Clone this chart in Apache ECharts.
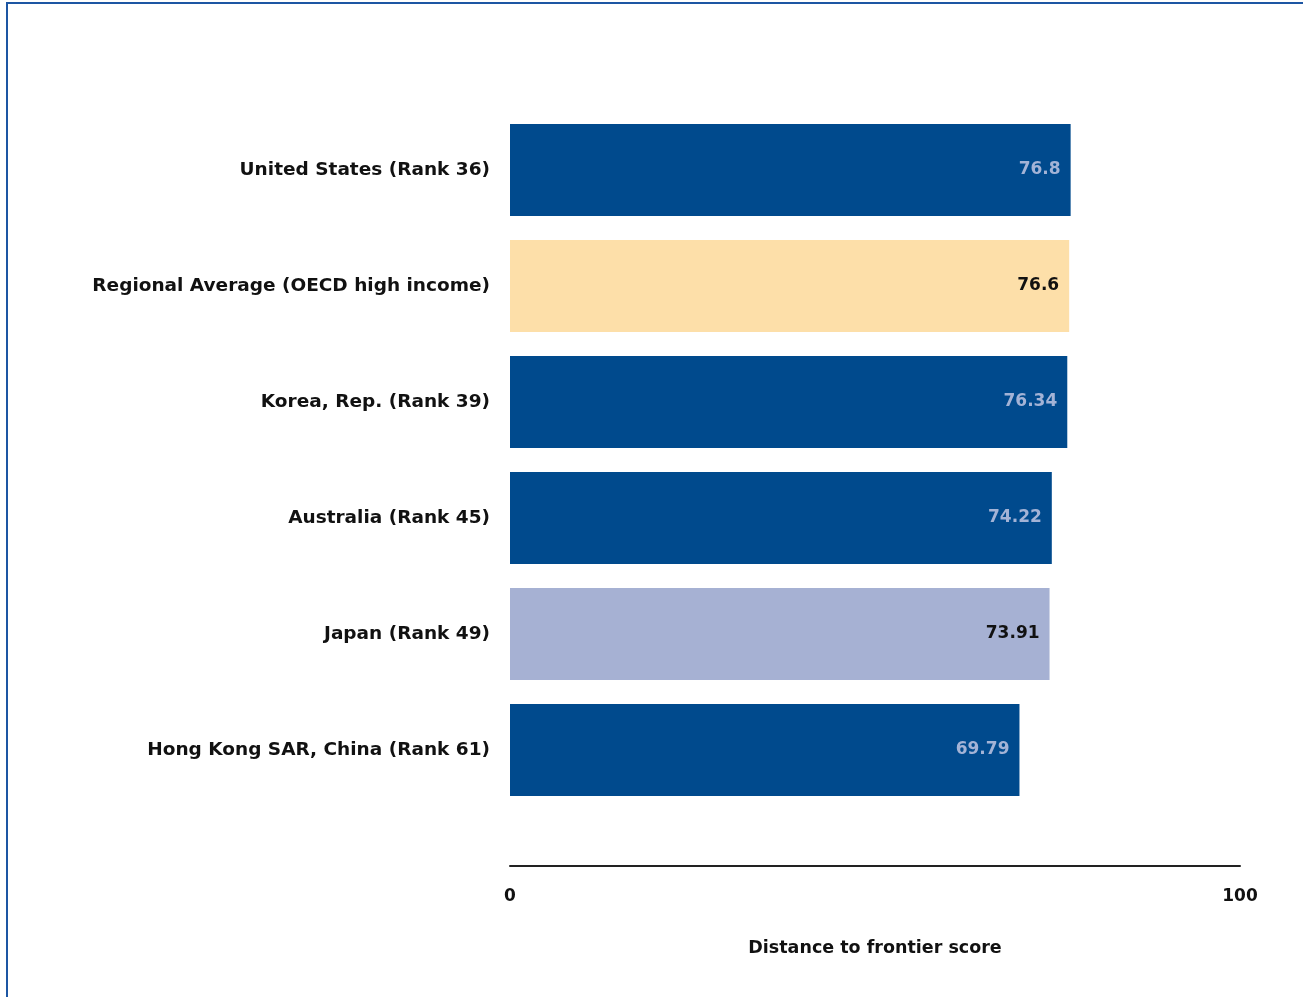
<!DOCTYPE html>
<html>
<head>
<meta charset="utf-8">
<script src="https://cdn.jsdelivr.net/npm/echarts@6/dist/echarts.min.js"></script>
<style>
  html, body { margin: 0; padding: 0; background: #fff; }
  #frame { position: absolute; left: 6px; top: 2px; width: 1310px; height: 1010px;
           border-top: 2px solid #1d56a3; border-left: 2px solid #1d56a3; }
  #chart { position: absolute; left: 0; top: 0; width: 1303px; height: 997px; }
</style>
</head>
<body>
<div id="frame"></div>
<div id="chart"></div>
<script>
// 数据
const categories = [
  'United States (Rank 36)',
  'Regional Average (OECD high income)',
  'Korea, Rep. (Rank 39)',
  'Australia (Rank 45)',
  'Japan (Rank 49)',
  'Hong Kong SAR, China (Rank 61)'
];
const scores = [76.8, 76.6, 76.34, 74.22, 73.91, 69.79];
const scoreLabels = ['76.8', '76.6', '76.34', '74.22', '73.91', '69.79'];
const xTicks = [0, 100];

const barColors = ['#004a8d', '#fddfa9', '#004a8d', '#004a8d', '#a6b1d3', '#004a8d'];
const labelColors = ['#a3b3d6', '#111', '#a3b3d6', '#a3b3d6', '#111', '#a3b3d6'];

const chart = echarts.init(document.getElementById('chart'));
const font = '"DejaVu Sans", sans-serif';

const option = {
  animation: false,
  grid: { left: 510, right: 63, top: 112, bottom: 189 },
  xAxis: {
    type: 'value',
    min: 0,
    max: 100,
    interval: 100,
    offset: 58,
    axisLine: { show: true, lineStyle: { color: '#222', width: 2 } },
    axisTick: { show: false },
    splitLine: { show: false },
    axisLabel: {
      margin: 22,
      color: '#111',
      fontFamily: font,
      fontWeight: 'bold',
      fontSize: 17,
      formatter: (v) => xTicks.includes(v) ? String(v) : ''
    },
    name: 'Distance to frontier score',
    nameLocation: 'middle',
    nameGap: 73,
    nameTextStyle: { color: '#111', fontFamily: font, fontWeight: 'bold', fontSize: 17.5 }
  },
  yAxis: {
    type: 'category',
    inverse: true,
    data: categories,
    axisLine: { show: false },
    axisTick: { show: false },
    axisLabel: {
      margin: 20,
      color: '#111',
      fontFamily: font,
      fontWeight: 'bold',
      fontSize: 18.5
    }
  },
  series: [{
    type: 'bar',
    barCategoryGap: '20.7%',
    data: scores.map((v, i) => ({
      value: v,
      itemStyle: { color: barColors[i] },
      label: { color: labelColors[i] }
    })),
    label: {
      show: true,
      position: 'insideRight',
      distance: 10,
      fontFamily: font,
      fontWeight: 'bold',
      fontSize: 17,
      formatter: (p) => scoreLabels[p.dataIndex]
    }
  }]
};
chart.setOption(option);
</script>
</body>
</html>
